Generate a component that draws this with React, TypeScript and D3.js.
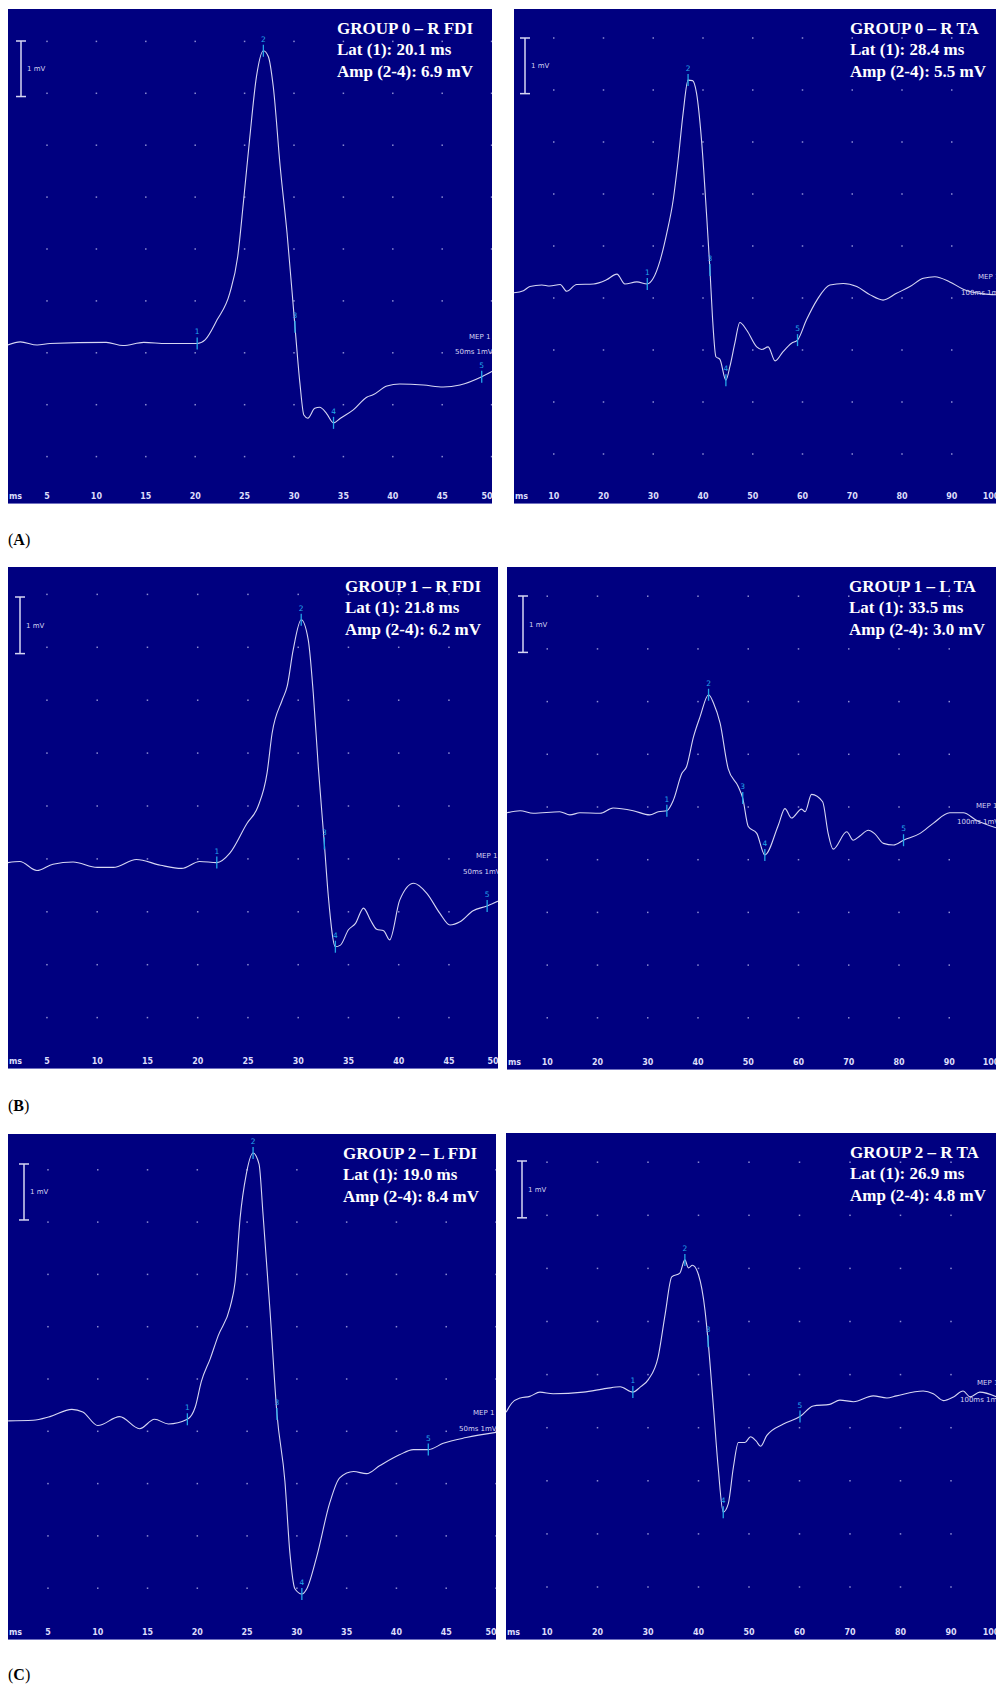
import React from "react";
import * as d3 from "d3";

// ---- data (x: ms, y: mV) ----
type Pt = [number, number];
type Mk = [number, number, number]; // marker no, ms, mV

const traceA_FDI: Pt[] = [[1.0,-1.85],[2.3,-1.79],[4.0,-1.85],[5.3,-1.82],[11.0,-1.80],[12.7,-1.86],[14.8,-1.80],[17.1,-1.82],[20.2,-1.82],[21.0,-1.75],[22.2,-1.37],[23.5,-0.85],[24.3,-0.15],[24.9,0.94],[25.5,2.10],[26.2,3.32],[26.9,3.82],[27.4,3.71],[27.9,3.13],[28.6,1.59],[29.3,0.30],[30.1,-1.50],[30.6,-2.59],[31.0,-3.20],[31.4,-3.26],[32.1,-3.07],[32.6,-3.05],[33.3,-3.17],[34.0,-3.35],[34.7,-3.26],[36.0,-3.10],[37.4,-2.85],[38.0,-2.81],[39.4,-2.64],[40.7,-2.60],[43.1,-2.62],[45.1,-2.66],[46.8,-2.62],[49.0,-2.46],[50.2,-2.34]];
const markersA_FDI: Mk[] = [[1,20.2,-1.82],[2,26.9,3.82],[3,30.1,-1.50],[4,34.0,-3.35],[5,49.0,-2.46]];

const traceA_TA: Pt[] = [[2.0,-0.90],[3.9,-0.86],[5.2,-0.78],[7.6,-0.75],[9.2,-0.77],[11.3,-0.74],[12.6,-0.87],[14.6,-0.74],[18.0,-0.73],[20.6,-0.65],[22.7,-0.54],[24.3,-0.73],[26.7,-0.69],[28.8,-0.73],[30.0,-0.62],[31.4,-0.27],[32.7,0.24],[34.0,0.88],[35.0,1.65],[36.0,2.55],[37.0,3.19],[37.9,3.18],[38.7,2.94],[39.7,2.04],[40.7,0.63],[41.4,-0.46],[41.9,-1.36],[42.6,-2.13],[43.4,-2.18],[44.6,-2.58],[45.4,-2.32],[46.4,-1.87],[47.4,-1.47],[48.8,-1.62],[50.8,-1.94],[51.8,-1.99],[53.1,-1.94],[54.5,-2.21],[56.1,-2.03],[57.8,-1.87],[59.0,-1.81],[60.8,-1.42],[62.9,-1.04],[65.5,-0.75],[68.2,-0.72],[70.9,-0.78],[73.6,-0.94],[76.2,-1.04],[78.9,-0.91],[81.6,-0.78],[84.3,-0.62],[86.6,-0.59],[89.6,-0.69],[92.3,-0.83],[96.3,-0.92],[99.5,-0.94]];
const markersA_TA: Mk[] = [[1,28.8,-0.73],[2,37.0,3.19],[3,41.4,-0.46],[4,44.6,-2.58],[5,59.0,-1.81]];

const traceB_FDI: Pt[] = [[1.1,-1.07],[2.3,-1.05],[4.0,-1.22],[5.6,-1.10],[7.6,-1.06],[10.0,-1.16],[11.6,-1.16],[13.9,-1.01],[16.3,-1.12],[18.4,-1.18],[20.2,-1.05],[21.9,-1.07],[23.2,-0.89],[24.9,-0.33],[26.0,-0.01],[26.9,0.62],[27.4,1.37],[28.4,2.00],[28.9,2.26],[29.5,2.95],[30.3,3.52],[31.0,3.14],[31.5,2.13],[32.0,0.74],[32.6,-0.71],[33.0,-1.71],[33.7,-2.66],[34.2,-2.63],[35.0,-2.34],[35.7,-2.22],[36.5,-1.93],[37.2,-2.16],[37.8,-2.33],[38.5,-2.36],[39.1,-2.53],[40.1,-1.78],[41.5,-1.46],[42.8,-1.65],[44.1,-2.03],[45.1,-2.25],[46.1,-2.19],[47.4,-1.98],[48.8,-1.89],[50.2,-1.77]];
const markersB_FDI: Mk[] = [[1,21.9,-1.07],[2,30.3,3.52],[3,32.6,-0.71],[4,33.7,-2.66],[5,48.8,-1.89]];

const traceB_TA: Pt[] = [[2.0,-0.11],[4.6,-0.07],[7.2,-0.12],[12.5,-0.09],[14.5,-0.15],[16.5,-0.11],[20.5,-0.12],[23.1,-0.02],[27.1,-0.07],[30.4,-0.15],[32.1,-0.09],[33.8,-0.07],[35.1,0.13],[36.8,0.64],[37.7,0.76],[39.1,1.33],[40.4,1.71],[42.1,2.13],[43.1,1.97],[44.4,1.59],[46.0,0.73],[48.0,0.39],[48.9,0.17],[50.0,-0.37],[51.7,-0.50],[53.3,-0.91],[56.0,-0.34],[57.3,-0.03],[58.6,-0.21],[60.6,-0.04],[61.3,-0.09],[62.6,0.24],[64.8,0.10],[65.9,-0.50],[66.9,-0.80],[69.6,-0.47],[70.9,-0.63],[72.2,-0.55],[73.9,-0.44],[75.2,-0.51],[76.9,-0.69],[78.9,-0.72],[80.9,-0.63],[84.2,-0.50],[86.8,-0.31],[90.1,-0.11],[92.8,-0.11],[95.4,-0.25],[99.5,-0.40]];
const markersB_TA: Mk[] = [[1,33.8,-0.07],[2,42.1,2.13],[3,48.9,0.17],[4,53.3,-0.91],[5,80.9,-0.63]];

const traceC_FDI: Pt[] = [[1.0,-0.80],[3.5,-0.79],[5.2,-0.72],[7.4,-0.58],[8.5,-0.63],[10.0,-0.89],[12.2,-0.72],[14.2,-0.95],[15.7,-0.77],[17.1,-0.86],[19.0,-0.77],[19.8,-0.53],[20.4,-0.05],[21.3,0.39],[22.1,0.83],[23.3,1.38],[23.8,1.86],[24.3,3.08],[24.9,3.90],[25.6,4.32],[26.2,4.11],[26.6,3.15],[27.3,1.31],[28.0,-0.67],[28.8,-1.96],[29.3,-3.33],[29.8,-4.01],[30.5,-4.11],[31.0,-4.01],[32.0,-3.39],[33.3,-2.37],[34.3,-1.89],[35.7,-1.77],[37.0,-1.81],[38.3,-1.66],[40.3,-1.45],[41.7,-1.35],[43.2,-1.35],[44.7,-1.23],[47.0,-1.12],[50.0,-1.02]];
const markersC_FDI: Mk[] = [[1,19.0,-0.77],[2,25.6,4.32],[3,28.0,-0.67],[4,30.5,-4.11],[5,43.2,-1.35]];

const traceC_TA: Pt[] = [[1.9,-0.71],[3.0,-0.54],[4.7,-0.44],[6.6,-0.41],[8.6,-0.33],[11.2,-0.36],[17.2,-0.33],[21.8,-0.26],[24.5,-0.23],[27.0,-0.33],[28.4,-0.24],[30.1,-0.09],[32.0,0.33],[33.4,1.14],[34.7,1.84],[36.3,1.91],[37.3,2.16],[38.0,2.01],[38.8,2.06],[40.0,1.88],[41.3,1.20],[41.9,0.63],[42.9,-0.54],[43.9,-1.75],[44.9,-2.59],[45.9,-2.43],[46.9,-1.75],[47.9,-1.28],[49.2,-1.28],[50.3,-1.17],[51.4,-1.25],[52.3,-1.35],[53.5,-1.15],[56.8,-0.93],[60.1,-0.79],[62.7,-0.59],[66.0,-0.56],[68.0,-0.48],[70.7,-0.51],[74.6,-0.40],[77.3,-0.44],[79.2,-0.40],[84.5,-0.31],[86.5,-0.36],[88.5,-0.49],[90.5,-0.42],[92.4,-0.31],[93.8,-0.42],[95.7,-0.33],[99.5,-0.44]];
const markersC_TA: Mk[] = [[1,27.0,-0.33],[2,37.3,2.16],[3,41.9,0.63],[4,44.9,-2.59],[5,60.1,-0.79]];

const titles = ["GROUP 0 – R FDI", "GROUP 0 – R TA", "GROUP 1 – R FDI", "GROUP 1 – L TA", "GROUP 2 – L FDI", "GROUP 2 – R TA"];
const latencies = ["20.1", "28.4", "21.8", "33.5", "19.0", "26.9"];
const amplitudes = ["6.9", "5.5", "6.2", "3.0", "8.4", "4.8"];
const ticksFDI = [5, 10, 15, 20, 25, 30, 35, 40, 45, 50];
const ticksTA = [10, 20, 30, 40, 50, 60, 70, 80, 90, 100];
const sweepLabels = ["50ms 1mV", "100ms 1mV"];
const sectionLabels = ["A", "B", "C"];

// ---- layout of each screen capture ----
const panels = [
  { trace: traceA_FDI, markers: markersA_FDI, ticks: ticksFDI, sweep: 0, x: 8, y: 9, w: 484, h: 495, xr: [-2.4, 491.6], yc: 249, ys: 51.9, tx: 337, sb: [21, 41], mep: [469, 339, 455, 354] },
  { trace: traceA_TA, markers: markersA_TA, ticks: ticksTA, sweep: 1, x: 514, y: 9, w: 482, h: 495, xr: [504, 1001.5], yc: 246, ys: 52, tx: 850, sb: [525, 38], mep: [978, 279, 961, 295] },
  { trace: traceB_FDI, markers: markersB_FDI, ticks: ticksFDI, sweep: 0, x: 8, y: 567, w: 490, h: 502, xr: [-3.3, 499.2], yc: 806, ys: 52.9, tx: 345, sb: [20, 597], mep: [476, 858, 463, 874] },
  { trace: traceB_TA, markers: markersB_TA, ticks: ticksTA, sweep: 1, x: 507, y: 567, w: 489, h: 503, xr: [497, 999.5], yc: 807, ys: 52.7, tx: 849, sb: [523, 596], mep: [976, 808, 957, 824] },
  { trace: traceC_FDI, markers: markersC_FDI, ticks: ticksFDI, sweep: 0, x: 8, y: 1134, w: 488, h: 506, xr: [-1.8, 496], yc: 1379, ys: 52.3, tx: 343, sb: [24, 1164], mep: [473, 1415, 459, 1431] },
  { trace: traceC_TA, markers: markersC_TA, ticks: ticksTA, sweep: 1, x: 506, y: 1133, w: 490, h: 507, xr: [496.5, 1001.5], yc: 1374.6, ys: 53.1, tx: 850, sb: [522, 1161], mep: [977, 1385, 960, 1402] },
];
const sectionY = [545, 1111, 1680];

const BG = "#000080";
const TRACE = "#d6d6f2";
const CYAN = "#23a5e8";
const SMALL = "'DejaVu Sans', Verdana, sans-serif";
const SERIF = "'Liberation Serif', 'Times New Roman', serif";

function Panel({ p, i }: { p: any; i: number }) {
  const xMax = p.ticks[p.ticks.length - 1];
  const xScale = d3.scaleLinear().domain([0, xMax]).range(p.xr);
  const yScale = d3.scaleLinear().domain([-5, 5]).range([p.yc + 5 * p.ys, p.yc - 5 * p.ys]);
  const line = d3
    .line<Pt>()
    .x((d) => xScale(d[0]))
    .y((d) => yScale(d[1]))
    .curve(d3.curveMonotoneX);

  const cols = d3.range(0, xMax + 0.01, xMax / 10);
  const rows = d3.range(-4, 5);
  const clipId = `clip-${i}`;
  const barLen = yScale(0) - yScale(1.07);
  const right = p.x + p.w;

  return (
    <g>
      <defs>
        <clipPath id={clipId}>
          <rect x={p.x} y={p.y} width={p.w} height={p.h} />
        </clipPath>
      </defs>
      <g clipPath={`url(#${clipId})`}>
        <rect x={p.x} y={p.y} width={p.w} height={p.h} fill={BG} />
        {/* grid dots */}
        {cols.map((c: number) =>
          rows.map((r: number) => (
            <rect key={`${c}-${r}`} x={xScale(c) - 0.75} y={yScale(r) - 0.75} width={1.5} height={1.5} fill="#8c8cd2" />
          ))
        )}
        <line x1={p.x} x2={right} y1={p.y + p.h - 0.5} y2={p.y + p.h - 0.5} stroke="#7070c0" strokeWidth={1} />

        {/* scale bar */}
        <g stroke={TRACE} strokeWidth={1.5}>
          <line x1={p.sb[0]} x2={p.sb[0]} y1={p.sb[1]} y2={p.sb[1] + barLen} />
          <line x1={p.sb[0] - 5} x2={p.sb[0] + 5} y1={p.sb[1]} y2={p.sb[1]} />
          <line x1={p.sb[0] - 5} x2={p.sb[0] + 5} y1={p.sb[1] + barLen} y2={p.sb[1] + barLen} />
        </g>
        <text x={p.sb[0] + 6} y={p.sb[1] + barLen / 2 + 2.5} fontSize={7} fill={TRACE} fontFamily={SMALL}>1 mV</text>

        {/* trace */}
        <path d={line(p.trace) || ""} fill="none" stroke={TRACE} strokeWidth={1.1} />

        {/* markers */}
        {p.markers.map((m: Mk) => (
          <g key={m[0]}>
            <line x1={xScale(m[1])} x2={xScale(m[1])} y1={yScale(m[2]) - 6} y2={yScale(m[2]) + 6} stroke={CYAN} strokeWidth={1.3} />
            <text x={xScale(m[1])} y={yScale(m[2]) - 9} fontSize={7.5} fill={CYAN} textAnchor="middle" fontFamily={SMALL}>{m[0]}</text>
          </g>
        ))}

        {/* MEP labels */}
        <text x={p.mep[0]} y={p.mep[1]} fontSize={7} fill={TRACE} fontFamily={SMALL}>MEP 1</text>
        <text x={p.mep[2]} y={p.mep[3]} fontSize={7} fill={TRACE} fontFamily={SMALL}>{sweepLabels[p.sweep]}</text>

        {/* time axis labels */}
        <g fontFamily={SMALL} fontSize={8} fontWeight="bold" fill="#dcdcfa">
          <text x={p.x + 1} y={p.y + p.h - 5}>ms</text>
          {p.ticks.map((t: number) => (
            <text key={t} x={Math.min(xScale(t), right - 5)} y={p.y + p.h - 5} textAnchor="middle">{t}</text>
          ))}
        </g>

        {/* header text */}
        <g fontFamily={SERIF} fontSize={17} fontWeight="bold" fill="#ffffff">
          <text x={p.tx} y={p.y + 24.5}>{titles[i]}</text>
          <text x={p.tx} y={p.y + 46}>Lat (1): {latencies[i]} ms</text>
          <text x={p.tx} y={p.y + 68}>Amp (2-4): {amplitudes[i]} mV</text>
        </g>
      </g>
    </g>
  );
}

export default function App() {
  return (
    <svg
      width={996}
      height={1684}
      style={{ position: "absolute", left: 0, top: 0, background: "#ffffff" }}
    >
      <rect x={0} y={0} width={996} height={1684} fill="#ffffff" />
      {panels.map((p, i) => (
        <Panel key={i} p={p} i={i} />
      ))}
      {sectionLabels.map((s, i) => (
        <text key={s} x={8} y={sectionY[i]} fontFamily={SERIF} fontSize={16} fill="#000">
          (<tspan fontWeight="bold">{s}</tspan>)
        </text>
      ))}
    </svg>
  );
}
